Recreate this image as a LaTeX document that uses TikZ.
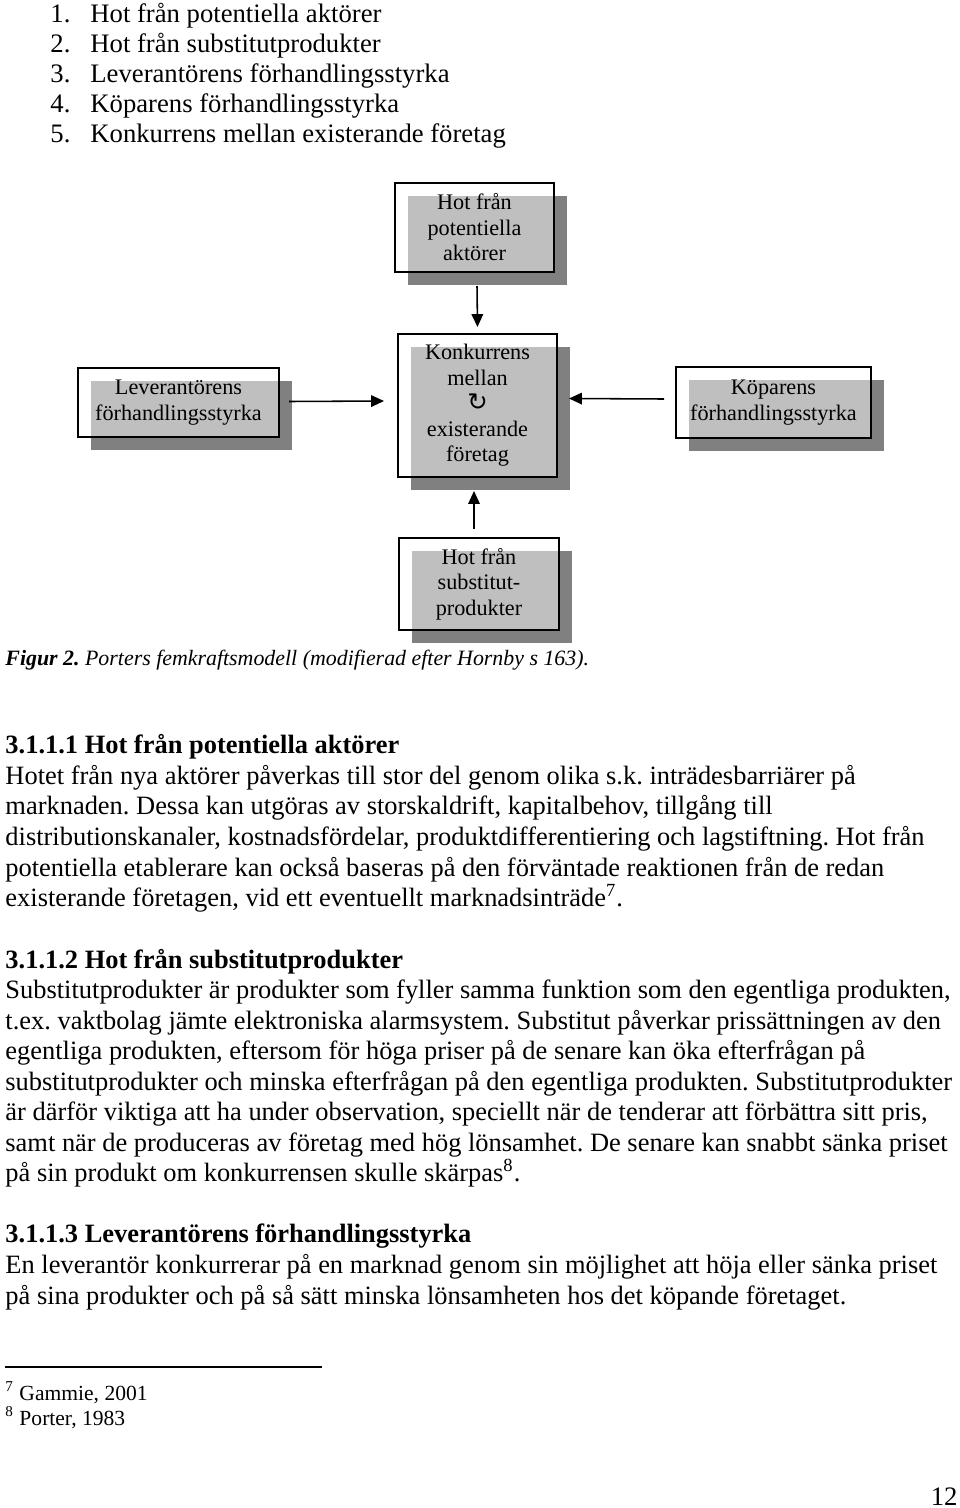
\documentclass[tikz,border=0pt]{standalone}
\usepackage{fontspec}
\setmainfont{Liberation Serif}
\newfontfamily\symfont{DejaVu Sans}
\usetikzlibrary{arrows.meta,shadows}
\definecolor{shadowgray}{HTML}{808080}
\frenchspacing
\tikzset{
  forcebox/.style={draw=black, line width=0.9pt, fill=white, fill opacity=0.5, text opacity=1,
    align=center, inner sep=0pt, font=\fontsize{10}{11.5}\selectfont,
    drop shadow={shadow xshift=5.85pt, shadow yshift=-5.85pt, fill=shadowgray, opacity=1}},
  arr/.style={line width=0.7pt, -{Triangle[length=5.8pt,width=5.2pt]}},
  line/.style={anchor=base west, inner sep=0pt, font=\frenchspacing\fontsize{11.9}{14}\selectfont},
  head/.style={line, font=\frenchspacing\fontsize{11.9}{14}\selectfont\bfseries},
  listline/.style={anchor=base west, inner sep=0pt, font=\fontsize{12}{14}\selectfont},
  fnline/.style={anchor=base west, inner sep=0pt, font=\fontsize{9.7}{12}\selectfont},
}
\begin{document}
\begin{tikzpicture}[x=0.45pt,y=-0.45pt]
\useasboundingbox[fill=white] (0,0) rectangle (960,1508);

% numbered list
\node[listline] (n1) at (50,22) {1.};
\node[listline] (l1) at (90,22) {Hot från potentiella aktörer};
\node[listline] (n2) at (50,52) {2.};
\node[listline] (l2) at (90,52) {Hot från substitutprodukter};
\node[listline] (n3) at (50,82) {3.};
\node[listline] (l3) at (90,82) {Leverantörens förhandlingsstyrka};
\node[listline] (n4) at (50,112) {4.};
\node[listline] (l4) at (90,112) {Köparens förhandlingsstyrka};
\node[listline] (n5) at (50,142) {5.};
\node[listline] (l5) at (90,142) {Konkurrens mellan existerande företag};

% diagram
\node[forcebox, minimum width=159*0.45pt, minimum height=89*0.45pt] (pot) at (474.5,227.5)
  {Hot från\\potentiella\\aktörer};
\node[forcebox, minimum width=159*0.45pt, minimum height=143*0.45pt] (comp) at (477.5,405.5)
  {Konkurrens\\mellan\\{\symfont\fontsize{11}{12}\selectfont ↻}\\existerande\\företag};
\node[forcebox, minimum width=201*0.45pt, minimum height=69*0.45pt] (lev) at (178.5,402.5)
  {Leverantörens\\förhandlingsstyrka};
\node[forcebox, minimum width=195*0.45pt, minimum height=71*0.45pt] (kop) at (773.5,402.5)
  {Köparens\\förhandlingsstyrka};
\node[forcebox, minimum width=160*0.45pt, minimum height=92*0.45pt] (sub) at (479,584)
  {Hot från\\substitut-\\produkter};

\draw[arr] ([shift={(2.5,13)}]pot.south) -- ([shift={(0,-6)}]comp.north);
\draw[arr] ([shift={(9,-1)}]lev.east) -- ([shift={(-13,-4.5)}]comp.west);
\draw[arr] ([shift={(-11,-3.5)}]kop.west) -- ([shift={(11,-7)}]comp.east);
\draw[arr] ([shift={(-5,-8)}]sub.north) -- ([shift={(-3.5,13)}]comp.south);

% caption
\node[anchor=base west, inner sep=0pt, font=\frenchspacing\fontsize{9.85}{12}\selectfont\itshape] (cap) at (5,665)
  {\textbf{Figur 2.} Porters femkraftsmodell (modifierad efter Hornby s 163).};

% section 3.1.1.1
\node[head] (h1) at (5,753) {3.1.1.1 Hot från potentiella aktörer};
\node[line] (p11) at (5,784) {Hotet från nya aktörer påverkas till stor del genom olika s.k. inträdesbarriärer på};
\node[line] (p12) at (5,814) {marknaden. Dessa kan utgöras av storskaldrift, kapitalbehov, tillgång till};
\node[line] (p13) at (5,845) {distributionskanaler, kostnadsfördelar, produktdifferentiering och lagstiftning. Hot från};
\node[line] (p14) at (5,876) {potentiella etablerare kan också baseras på den förväntade reaktionen från de redan};
\node[line] (p15) at (5,906) {existerande företagen, vid ett eventuellt marknadsinträde\textsuperscript{7}.};

% section 3.1.1.2
\node[head] (h2) at (5,968) {3.1.1.2 Hot från substitutprodukter};
\node[line] (p21) at (5,998) {Substitutprodukter är produkter som fyller samma funktion som den egentliga produkten,};
\node[line] (p22) at (5,1029) {t.ex. vaktbolag jämte elektroniska alarmsystem. Substitut påverkar prissättningen av den};
\node[line] (p23) at (5,1059) {egentliga produkten, eftersom för höga priser på de senare kan öka efterfrågan på};
\node[line] (p24) at (5,1090) {substitutprodukter och minska efterfrågan på den egentliga produkten. Substitutprodukter};
\node[line] (p25) at (5,1120) {är därför viktiga att ha under observation, speciellt när de tenderar att förbättra sitt pris,};
\node[line] (p26) at (5,1151) {samt när de produceras av företag med hög lönsamhet. De senare kan snabbt sänka priset};
\node[line] (p27) at (5,1181) {på sin produkt om konkurrensen skulle skärpas\textsuperscript{8}.};

% section 3.1.1.3
\node[head] (h3) at (5,1242) {3.1.1.3 Leverantörens förhandlingsstyrka};
\node[line] (p31) at (5,1273) {En leverantör konkurrerar på en marknad genom sin möjlighet att höja eller sänka priset};
\node[line] (p32) at (5,1304) {på sina produkter och på så sätt minska lönsamheten hos det köpande företaget.};

% footnotes
\coordinate (fr1) at (5,1367);
\coordinate (fr2) at (322,1367);
\draw[line width=0.5pt] (fr1) -- (fr2);
\node[fnline] (f1) at (5,1400) {\textsuperscript{7} Gammie, 2001};
\node[fnline] (f2) at (5,1425) {\textsuperscript{8} Porter, 1983};

% page number
\node[anchor=base east, inner sep=0pt, font=\fontsize{12}{14}\selectfont] (pg) at (958,1505) {12};
\end{tikzpicture}
\end{document}
